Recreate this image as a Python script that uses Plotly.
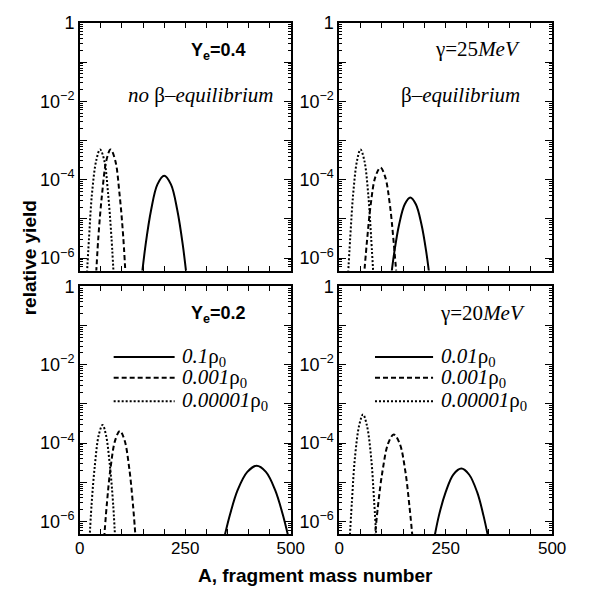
import plotly.graph_objects as go

# ---------------- data ----------------
# Top-left panel: Ye=0.4, no beta-equilibrium
tl_solid_A = [143, 156, 169, 184, 200, 216, 231, 244, 257]
tl_solid_Y = [1.45e-7, 2.2e-6, 1.68e-5, 7.6e-5, 1.26e-4, 7.6e-5, 1.68e-5, 2.2e-6, 1.45e-7]
tl_dash_A = [36, 44, 53, 63, 73, 84, 94, 103, 111]
tl_dash_Y = [1.05e-7, 3.4e-6, 4.5e-5, 3.1e-4, 5.9e-4, 3.1e-4, 4.5e-5, 3.4e-6, 1.05e-7]
tl_dot_A = [14, 22, 29, 39, 48, 58, 67, 75, 83]
tl_dot_Y = [1.05e-7, 3.4e-6, 4.5e-5, 3.1e-4, 5.9e-4, 3.1e-4, 4.5e-5, 3.4e-6, 1.05e-7]

# Top-right panel: gamma=25 MeV, beta-equilibrium
tr_solid_A = [119, 130, 141, 154, 167, 180, 193, 204, 215]
tr_solid_Y = [1.9e-7, 1.55e-6, 7.4e-6, 2.35e-5, 3.5e-5, 2.35e-5, 7.4e-6, 1.55e-6, 1.9e-7]
tr_dash_A = [55, 65, 74, 85, 97, 108, 119, 128, 138]
tr_dash_Y = [1.3e-7, 2.5e-6, 2.3e-5, 1.18e-4, 2.04e-4, 1.18e-4, 2.3e-5, 2.5e-6, 1.3e-7]
tr_dot_A = [18, 26, 33, 42, 50, 59, 68, 75, 83]
tr_dot_Y = [1.05e-7, 3.4e-6, 4.5e-5, 3.1e-4, 5.9e-4, 3.1e-4, 4.5e-5, 3.4e-6, 1.05e-7]

# Bottom-left panel: Ye=0.2
bl_solid_A = [337, 356, 374, 397, 419, 441, 463, 481, 500]
bl_solid_Y = [2.2e-7, 1.5e-6, 6.3e-6, 1.84e-5, 2.63e-5, 1.84e-5, 6.3e-6, 1.5e-6, 2.2e-7]
bl_dash_A = [55, 64, 73, 84, 95, 106, 117, 126, 135]
bl_dash_Y = [1.46e-7, 2.7e-6, 2.37e-5, 1.19e-4, 2.04e-4, 1.19e-4, 2.37e-5, 2.7e-6, 1.46e-7]
bl_dot_A = [21, 28, 36, 45, 54, 62, 71, 79, 86]
bl_dot_Y = [1.25e-7, 2.8e-6, 2.9e-5, 1.62e-4, 2.9e-4, 1.62e-4, 2.9e-5, 2.8e-6, 1.25e-7]

# Bottom-right panel: gamma=20 MeV
br_solid_A = [219, 234, 250, 268, 287, 305, 324, 339, 355]
br_solid_Y = [2.1e-7, 1.39e-6, 5.6e-6, 1.58e-5, 2.24e-5, 1.58e-5, 5.6e-6, 1.39e-6, 2.1e-7]
br_dash_A = [80, 91, 102, 115, 128, 142, 155, 165, 176]
br_dash_Y = [1.4e-7, 2.43e-6, 2.02e-5, 9.8e-5, 1.66e-4, 9.8e-5, 2.02e-5, 2.43e-6, 1.4e-7]
br_dot_A = [22, 30, 37, 47, 56, 65, 75, 82, 90]
br_dot_Y = [1.1e-7, 3.4e-6, 4.3e-5, 2.85e-4, 5.4e-4, 2.85e-4, 4.3e-5, 3.4e-6, 1.1e-7]

x_tickvals = [0, 50, 100, 150, 200, 250, 300, 350, 400, 450, 500]
x_ticktext = ["0", "", "", "", "", "250", "", "", "", "", "500"]
y_tickvals = [1, 1e-1, 1e-2, 1e-3, 1e-4, 1e-5, 1e-6]
y_ticktext = ["1", "", "10<sup>−2</sup>", "", "10<sup>−4</sup>", "", "10<sup>−6</sup>"]

# ---------------- figure ----------------
# the page body has an 8px default margin, so the figure is made 8px smaller
# and every position below is given in window pixels and shifted back by 8.
OFF = 8
W, H = 600 - OFF, 593 - OFF
SANS = "Liberation Sans, Arial, Helvetica"
SERIF = "Liberation Serif, Times New Roman, serif"

fig = go.Figure()

DASH = "5px,3px"
DOT = "2px,2px"

panels = [
    ("x", "y", tl_solid_A, tl_solid_Y, tl_dash_A, tl_dash_Y, tl_dot_A, tl_dot_Y),
    ("x2", "y2", tr_solid_A, tr_solid_Y, tr_dash_A, tr_dash_Y, tr_dot_A, tr_dot_Y),
    ("x3", "y3", bl_solid_A, bl_solid_Y, bl_dash_A, bl_dash_Y, bl_dot_A, bl_dot_Y),
    ("x4", "y4", br_solid_A, br_solid_Y, br_dash_A, br_dash_Y, br_dot_A, br_dot_Y),
]
for xa, ya, sa, sy, da, dy, oa, oy in panels:
    for A, Y, dash in ((sa, sy, "solid"), (da, dy, DASH), (oa, oy, DOT)):
        fig.add_trace(go.Scatter(
            x=A, y=Y, mode="lines", xaxis=xa, yaxis=ya, showlegend=False,
            line=dict(color="black", width=2, dash=dash, shape="spline", smoothing=1.0),
            hoverinfo="skip"))

def px_x(p):
    return (p - OFF) / W

def px_y(p):
    return 1 - (p - OFF) / H

xdom_left = [px_x(77), px_x(295)]
xdom_right = [px_x(345), px_x(565)]
ydom_top = [px_y(265), px_y(13)]
ydom_bot = [px_y(533), px_y(281)]

minor_vals = [k * 10 ** (-d) for d in range(1, 8) for k in range(2, 10)]

def xax(dom, anchor, labels):
    return dict(domain=dom, anchor=anchor, range=[0, 500], tickmode="array",
                tickvals=x_tickvals, ticktext=x_ticktext, showticklabels=labels,
                ticks="inside", ticklen=5, tickwidth=1, tickcolor="black",
                mirror="allticks", showline=True, linecolor="black", linewidth=1.5,
                showgrid=False, zeroline=False, ticklabelstandoff=-2,
                tickfont=dict(family=SANS, size=17, color="black"))

def yax(dom, anchor):
    return dict(domain=dom, anchor=anchor, type="log", range=[-6.32, 0],
                tickmode="array", tickvals=y_tickvals, ticktext=y_ticktext,
                ticks="inside", ticklen=7, tickwidth=1, tickcolor="black",
                mirror="allticks", showline=True, linecolor="black", linewidth=1.5,
                showgrid=False, zeroline=False,
                minor=dict(tickmode="array", tickvals=minor_vals, ticks="inside",
                           ticklen=3, tickwidth=1, tickcolor="black", showgrid=False),
                tickfont=dict(family=SANS, size=18, color="black"))

fig.update_layout(
    width=W, height=H, margin=dict(l=0, r=0, t=0, b=0),
    paper_bgcolor="white", plot_bgcolor="white", showlegend=False,
    xaxis=xax(xdom_left, "y", False), yaxis=yax(ydom_top, "x"),
    xaxis2=xax(xdom_right, "y2", False), yaxis2=yax(ydom_top, "x2"),
    xaxis3=xax(xdom_left, "y3", True), yaxis3=yax(ydom_bot, "x3"),
    xaxis4=xax(xdom_right, "y4", True), yaxis4=yax(ydom_bot, "x4"),
)

ann = []
def text(x, y, t, family, size, xanchor="right", bold=False, angle=0):
    if bold:
        t = "<b>" + t + "</b>"
    ann.append(dict(x=px_x(x), y=px_y(y), xref="paper", yref="paper", text=t,
                    showarrow=False, xanchor=xanchor, yanchor="middle", textangle=angle,
                    font=dict(family=family, size=size, color="black")))

text(251, 42, "Y<sub>e</sub>=0.4", SANS, 18, bold=True)
text(279, 86, "<i>no</i> β–<i>equilibrium</i>", SERIF, 21)
text(534, 40, "γ=25<i>MeV</i>", SERIF, 21)
text(534, 86, "β–<i>equilibrium</i>", SERIF, 21)
text(251, 310, "Y<sub>e</sub>=0.2", SANS, 18, bold=True)
text(539, 308, "γ=20<i>MeV</i>", SERIF, 21)

legend_rows = [353, 374, 398]
legend_dash = ["solid", DASH, DOT]
bl_labels = ["<i>0.1</i>ρ<sub>0</sub>", "<i>0.001</i>ρ<sub>0</sub>", "<i>0.00001</i>ρ<sub>0</sub>"]
br_labels = ["<i>0.01</i>ρ<sub>0</sub>", "<i>0.001</i>ρ<sub>0</sub>", "<i>0.00001</i>ρ<sub>0</sub>"]
shapes = []
for row, dsh, l1, l2 in zip(legend_rows, legend_dash, bl_labels, br_labels):
    for x0, x1, lab in ((112, 175, l1), (382, 442, l2)):
        shapes.append(dict(type="line", xref="paper", yref="paper",
                           x0=px_x(x0), x1=px_x(x1), y0=px_y(row), y1=px_y(row),
                           line=dict(color="black", width=2, dash=dsh)))
        text(x1 + 6, row, lab, SERIF, 21, xanchor="left")

text(25, 252, "relative yield", SANS, 19, xanchor="center", bold=True, angle=-90)
text(321, 575, "A, fragment mass number", SANS, 19, xanchor="center", bold=True)

fig.update_layout(annotations=ann, shapes=shapes)
fig.write_html("out.html")
